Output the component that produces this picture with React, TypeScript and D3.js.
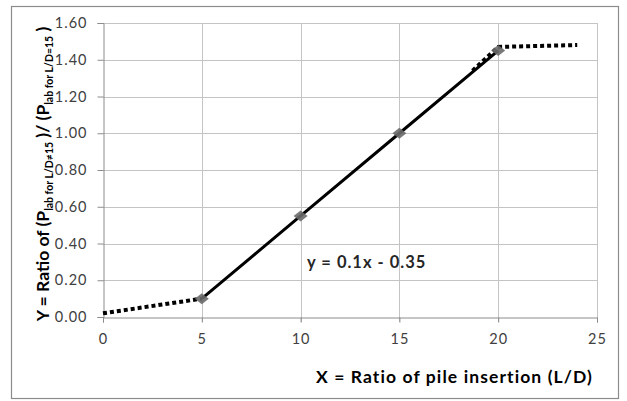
import React, { useEffect, useRef } from 'react';
import * as d3 from 'd3';

// tick labels
const xTicks = [0, 5, 10, 15, 20, 25];
const yTicks = [0, 0.2, 0.4, 0.6, 0.8, 1.0, 1.2, 1.4, 1.6];

// measured points (markers + solid line)
const fitX = [5, 10, 15, 20];
const fitY = [0.1, 0.55, 1.0, 1.45];

// dotted extensions
const lowX = [0, 5];
const lowY = [0.02, 0.1];
const highX = [18.7, 20, 24];
const highY = [1.34, 1.47, 1.48];

const equation = 'y = 0.1x - 0.35';
const xTitle = 'X = Ratio of pile insertion (L/D)';

const W = 627;
const H = 401;
const font = 'Lato, "Open Sans", sans-serif';

const App = () => {
  const svgRef = useRef<SVGSVGElement>(null);

  useEffect(() => {
    const svg = d3.select(svgRef.current);
    svg.selectAll('*').remove();

    const x = d3.scaleLinear().domain([0, 25]).range([103, 597]);
    const y = d3.scaleLinear().domain([0, 1.6]).range([317, 23]);

    // outer frame
    svg.append('rect')
      .attr('x', 11.5).attr('y', 6.5)
      .attr('width', 607).attr('height', 392)
      .attr('fill', '#fff')
      .attr('stroke', '#8c8c8c')
      .attr('stroke-width', 1.2);

    // gridlines
    const grid = svg.append('g');
    grid.selectAll('.hg')
      .data(yTicks.slice(1))
      .enter()
      .append('line')
      .attr('x1', x(0)).attr('x2', x(25))
      .attr('y1', d => Math.round(y(d)) + 0.5)
      .attr('y2', d => Math.round(y(d)) + 0.5)
      .attr('stroke', '#c4c4c4');
    grid.selectAll('.vg')
      .data(xTicks.slice(1))
      .enter()
      .append('line')
      .attr('x1', d => Math.round(x(d)) + 0.5)
      .attr('x2', d => Math.round(x(d)) + 0.5)
      .attr('y1', y(1.6)).attr('y2', y(0) + 5)
      .attr('stroke', '#c4c4c4');

    // axes
    const xAxis = d3.axisBottom(x).tickValues(xTicks).tickSize(5).tickPadding(11)
      .tickFormat(d3.format('d'));
    const gx = svg.append('g')
      .attr('transform', `translate(0,${Math.round(y(0)) + 0.5})`)
      .call(xAxis);
    const yAxis = d3.axisLeft(y).tickValues(yTicks).tickSize(6).tickPadding(10)
      .tickFormat(d3.format('.2f'));
    const gy = svg.append('g')
      .attr('transform', `translate(${Math.round(x(0)) + 0.5},0)`)
      .call(yAxis);
    [gx, gy].forEach(g => {
      g.select('.domain').attr('stroke', '#8c8c8c');
      g.selectAll('.tick line').attr('stroke', '#8c8c8c');
      g.selectAll('.tick text')
        .attr('fill', '#404040')
        .style('font-family', font)
        .style('font-size', '14.5px')
        .style('letter-spacing', '1px');
    });

    // lines
    const line = d3.line<[number, number]>().x(d => x(d[0])).y(d => y(d[1]));
    const lowPts = lowX.map((v, i) => [v, lowY[i]] as [number, number]);
    const highPts = highX.map((v, i) => [v, highY[i]] as [number, number]);
    const fitPts = fitX.map((v, i) => [v, fitY[i]] as [number, number]);

    svg.append('path')
      .attr('d', line(fitPts))
      .attr('fill', 'none')
      .attr('stroke', '#000')
      .attr('stroke-width', 3);

    [lowPts, highPts].forEach(pts => {
      svg.append('path')
        .attr('d', line(pts))
        .attr('fill', 'none')
        .attr('stroke', '#000')
        .attr('stroke-width', 4)
        .attr('stroke-dasharray', '4,3');
    });

    // markers: wide grey diamonds
    svg.selectAll('.mk')
      .data(fitPts)
      .enter()
      .append('path')
      .attr('d', 'M-7,0L0,-5.5L7,0L0,5.5Z')
      .attr('transform', d => `translate(${x(d[0])},${y(d[1])})`)
      .attr('fill', '#6a6a6a')
      .attr('opacity', 0.9);

    // equation
    svg.append('text')
      .attr('x', 307).attr('y', 268)
      .style('font-family', font)
      .style('font-size', '16.5px')
      .style('font-weight', 'bold')
      .style('letter-spacing', '1px')
      .attr('fill', '#262626')
      .text(equation);

    // x title
    svg.append('text')
      .attr('x', 593).attr('y', 383)
      .attr('text-anchor', 'end')
      .style('font-family', font)
      .style('font-size', '17.5px')
      .style('font-weight', 'bold')
      .style('letter-spacing', '1.1px')
      .attr('fill', '#000')
      .text(xTitle);

    // y title
    const yt = svg.append('text')
      .attr('transform', 'translate(49,174) rotate(-90)')
      .attr('text-anchor', 'middle')
      .style('font-family', font)
      .style('font-size', '17.5px')
      .style('font-weight', 'bold')
      .attr('fill', '#000');
    yt.append('tspan').text('Y = Ratio of (P');
    yt.append('tspan').attr('dy', 4).style('font-size', '10.5px').text('lab for L/D\u226015');
    yt.append('tspan').attr('dy', -4).text(' )/ (P');
    yt.append('tspan').attr('dy', 4).style('font-size', '10.5px').text('lab for L/D=15');
    yt.append('tspan').attr('dy', -4).text(' )');
  }, []);

  return (
    <svg ref={svgRef} width={W} height={H}
      style={{ position: 'absolute', left: 0, top: 0, display: 'block' }} />
  );
};

export default App;
